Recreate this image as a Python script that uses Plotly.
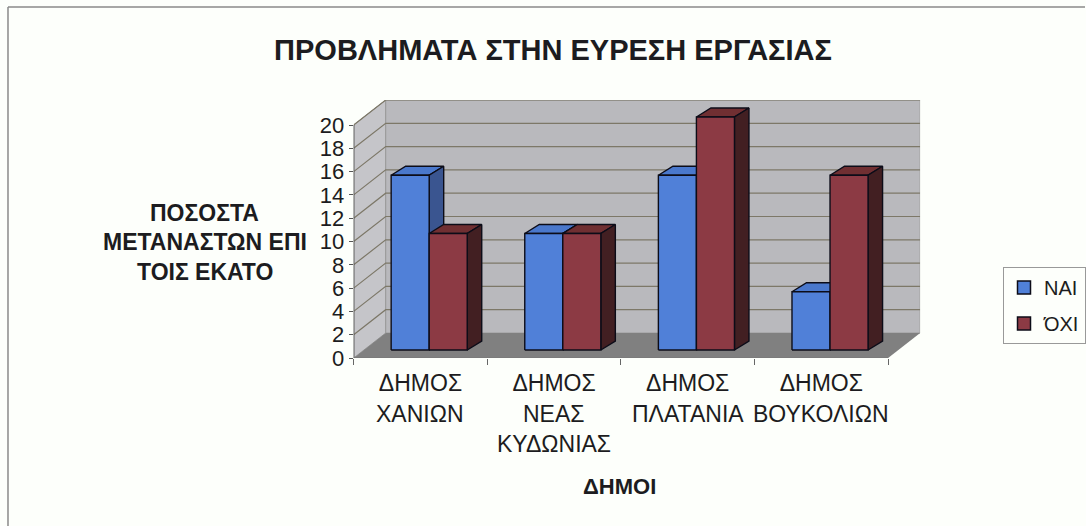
import plotly.graph_objects as go

CATEGORIES = [["ΔΗΜΟΣ", "ΧΑΝΙΩΝ"], ["ΔΗΜΟΣ", "ΝΕΑΣ", "ΚΥΔΩΝΙΑΣ"], ["ΔΗΜΟΣ", "ΠΛΑΤΑΝΙΑ"], ["ΔΗΜΟΣ", "ΒΟΥΚΟΛΙΩΝ"]]
NAI = [15, 10, 15, 5]
OXI = [10, 10, 20, 15]
YTICKS = list(range(0, 21, 2))
YTITLE = ["ΠΟΣΟΣΤΑ", "ΜΕΤΑΝΑΣΤΩΝ ΕΠΙ", "ΤΟΙΣ ΕΚΑΤΟ"]

W, H = 1086, 526
FONT = "Liberation Sans, Arial, sans-serif"
TXT = "#1c1c20"
L, R, T, B = 354, 921, 100, 358
XU, YU = 133.5, 11.65
WALL_X, WALL_Y = 32 / XU, 25 / YU
N = len(CATEGORIES)
BAR_W = 38 / XU
OFF_X, OFF_Y = 8.7 / XU, 8 / YU
DEP_X, DEP_Y = 14.5 / XU, 9 / YU
EDGE = "#0c0c18"

fig = go.Figure()

def poly(xs, ys, fill, line=None, lw=0):
    fig.add_trace(go.Scatter(x=xs + xs[:1], y=ys + ys[:1], mode="lines", fill="toself", fillcolor=fill,
                             line=dict(color=line or fill, width=lw if line else 0),
                             hoverinfo="skip", showlegend=False))

def seg(xs, ys, color, w=1.2):
    fig.add_trace(go.Scatter(x=xs, y=ys, mode="lines", line=dict(color=color, width=w),
                             hoverinfo="skip", showlegend=False))

# walls and floor
poly([0, WALL_X, WALL_X, 0], [0, WALL_Y, 20 + WALL_Y, 20], "#c5c5c9", "#9a9a9a", 1)
poly([WALL_X, N + WALL_X, N + WALL_X, WALL_X], [WALL_Y, WALL_Y, 20 + WALL_Y, 20 + WALL_Y], "#b9b9bd", "#9a9a9a", 1)
poly([0, N, N + WALL_X, WALL_X], [0, 0, WALL_Y, WALL_Y], "#808080")
for v in YTICKS[1:]:
    seg([0, WALL_X, N + WALL_X], [v, v + WALL_Y, v + WALL_Y], "#7d7868")
seg([0, 0], [0, 20], "#555555", 1.5)
seg([0, N], [0, 0], "#777777", 1.2)

# bars
def bar(x0, v, front, side, top):
    x1 = x0 + BAR_W
    y0, y1 = OFF_Y, OFF_Y + v
    poly([x0, x1, x1 + DEP_X, x0 + DEP_X], [y1, y1, y1 + DEP_Y, y1 + DEP_Y], top, EDGE, 1.4)
    poly([x1, x1 + DEP_X, x1 + DEP_X, x1], [y0, y0 + DEP_Y, y1 + DEP_Y, y1], side, EDGE, 1.4)
    poly([x0, x1, x1, x0], [y0, y0, y1, y1], front, EDGE, 1.4)

for i in range(N):
    c = i + 0.5 + OFF_X
    bar(c - BAR_W, NAI[i], "#5080d8", "#3a5590", "#4a78cc")
    bar(c, OXI[i], "#8c3a44", "#421f22", "#702f32")

# legend entries
for name, col in [("ΝΑΙ", "#5080d8"), ("ΌΧΙ", "#8c3a44")]:
    fig.add_trace(go.Scatter(x=[None], y=[None], mode="markers", name=name, legendgroup=name,
                             marker=dict(symbol="square", size=13, color=col, line=dict(color=EDGE, width=1.5))))

ann = []
def text(s, px, py, size, bold=False):
    ann.append(dict(text=f"<b>{s}</b>" if bold else s, x=px / W, y=1 - py / H, xref="paper", yref="paper",
                    showarrow=False, xanchor="center", yanchor="middle",
                    font=dict(family=FONT, size=size, color=TXT)))

for i, lines in enumerate(CATEGORIES):
    for j, s in enumerate(lines[1:], start=1):
        ann.append(dict(text=s, x=i + 0.5, xref="x", y=1 - (383 + 30.5 * j) / H, yref="paper", showarrow=False,
                        xanchor="center", yanchor="middle", font=dict(family=FONT, size=23, color=TXT)))
for j, s in enumerate(YTITLE):
    text(s, 205, 213 + 29.5 * j, 23, True)
text("ΔΗΜΟΙ", 620, 486, 22, True)

frame = [dict(type="line", xref="paper", yref="paper", x0=8 / W, x1=8 / W, y0=0, y1=1 - 7 / H,
              line=dict(color="#8a8a8a", width=1.5)),
         dict(type="line", xref="paper", yref="paper", x0=8 / W, x1=1, y0=1 - 7 / H, y1=1 - 7 / H,
              line=dict(color="#8a8a8a", width=1.5))]

fig.update_layout(
    width=W, height=H, autosize=False, margin=dict(l=0, r=0, t=0, b=0),
    paper_bgcolor="#fdfffb", plot_bgcolor="rgba(0,0,0,0)",
    title=dict(text="<b>ΠΡΟΒΛΗΜΑΤΑ ΣΤΗΝ ΕΥΡΕΣΗ ΕΡΓΑΣΙΑΣ</b>", x=553 / W, y=1 - 50 / H, xanchor="center",
               yanchor="middle", font=dict(family=FONT, size=29, color=TXT)),
    xaxis=dict(domain=[L / W, R / W], range=[0, N + WALL_X], showgrid=False, zeroline=False, showline=False,
               automargin=False,
               tickvals=[i + 0.5 for i in range(N)], ticktext=[c[0] for c in CATEGORIES], ticks="",
               ticklabelstandoff=9,
               minor=dict(tickvals=list(range(N + 1)), ticks="outside", ticklen=6, tickcolor="#666666", showgrid=False),
               tickfont=dict(family=FONT, size=23, color=TXT), fixedrange=True),
    yaxis=dict(domain=[1 - B / H, 1 - T / H], range=[0, 20 + WALL_Y], showgrid=False, zeroline=False, showline=False,
               automargin=False,
               tickvals=YTICKS, ticks="outside", ticklen=4, tickcolor="#555555",
               tickfont=dict(family=FONT, size=22, color=TXT), fixedrange=True),
    legend=dict(x=1004 / W, y=1 - 267 / H, xanchor="left", yanchor="top", bordercolor="#999999", borderwidth=1,
                bgcolor="#fdfffb", font=dict(family=FONT, size=20, color=TXT), tracegroupgap=7,
                itemwidth=30),
    annotations=ann, shapes=frame, showlegend=True,
)
fig.write_html("out.html", config=dict(displayModeBar=False),
               post_script="document.body.style.margin='0';document.documentElement.style.overflow='hidden';")
